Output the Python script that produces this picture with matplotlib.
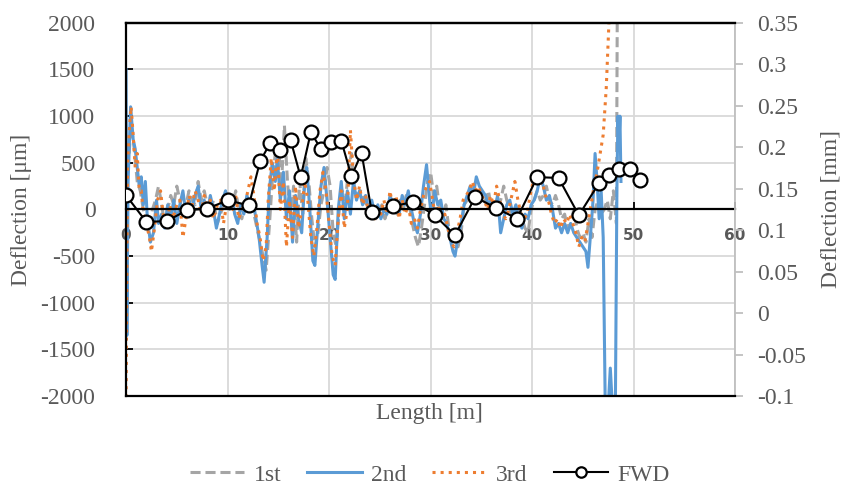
import matplotlib.pyplot as plt
import matplotlib.ticker as ticker

plt.rcParams['font.family'] = ['Liberation Serif', 'DejaVu Serif']
plt.rcParams['axes.unicode_minus'] = False

#1st run (gray dashed), length [m] and deflection [um]
x_1st = [0.30, 0.50, 0.80, 1.10, 1.40, 1.70, 2.00, 2.30, 2.60, 2.90, 3.20, 3.50, 3.80, 4.10, 4.40, 4.70,
         5.00, 5.30, 5.60, 5.90, 6.20, 6.50, 6.80, 7.10, 7.40, 7.70, 8.00, 8.30, 8.60, 9.00, 9.30, 9.60,
         9.90, 10.20, 10.50, 10.80, 11.10, 11.40, 11.70, 12.00, 12.30, 12.60, 12.90, 13.20, 13.50, 13.80,
         14.10, 14.40, 14.70, 15.00, 15.30, 15.60, 15.90, 16.20, 16.50, 16.80, 17.10, 17.40, 17.70, 18.00,
         18.30, 18.60, 18.90, 19.20, 19.50, 19.80, 20.10, 20.40, 20.70, 21.00, 21.30, 21.60, 21.90, 22.20,
         22.50, 22.80, 23.10, 23.40, 23.70, 24.00, 24.30, 24.60, 24.90, 25.20, 25.50, 25.80, 26.10, 26.40,
         26.70, 27.00, 27.30, 27.60, 27.90, 28.20, 28.50, 28.80, 29.10, 29.40, 29.70, 30.00, 30.30, 30.60,
         30.90, 31.20, 31.50, 31.80, 32.10, 32.40, 32.70, 33.00, 33.30, 33.60, 33.90, 34.20, 34.50, 34.80,
         35.10, 35.40, 35.70, 36.00, 36.30, 36.60, 36.90, 37.20, 37.50, 37.80, 38.10, 38.40, 38.70, 39.00,
         39.30, 39.60, 39.90, 40.20, 40.50, 40.80, 41.10, 41.40, 41.70, 42.00, 42.30, 42.60, 42.90, 43.20,
         43.50, 43.80, 44.10, 44.40, 44.70, 45.00, 45.30, 45.60, 45.90, 46.20, 46.50, 46.80, 47.10, 47.40,
         47.70, 48.00, 48.30, 48.40]
y_1st = [600, 900, 650, 300, 200, 0, -100, -200, 0, 100, 250, 50, -150, 0, 150, 50,
         250, 100, -50, 50, 200, 100, 50, 300, 100, 200, 50, -50, 100, -150, -50, 50,
         150, 0, 50, 200, 0, -100, 50, 100, 0, -50, -200, -350, -500, -650,
         -200, 300, 600, 700, 250, 900, 300, -100, 250, -350, 300, -50, 550, 300,
         -100, -400, -250, 50, 200, 450, 250, -250, -400, 0, 200, 100, 400, 600,
         200, 150, 200, 100, 50, -50, 0, -100, -50, 50, -100, 0, 100, 50,
         -50, 100, 0, 150, 50, -150, -300, -400, -200, 50, 300, 400, 150, 250,
         0, -100, 50, -200, -300, -350, -400, -250, 50, 100, 200, 250, 200, 150,
         50, 100, 200, 0, 100, 50, 100, 250, 100, 0, -100, -50, 50, -100,
         -200, -250, 0, 100, 200, 100, 150, 250, 100, 50, 150, 50, -100, -50,
         -200, -150, 0, -200, -300, -250, -350, -100, -300, 0, 100, -50, 0, 100,
         -100, 200, -150, 2500]

#2nd run (blue solid)
x_2nd = [0.00, 0.08, 0.20, 0.45, 0.70, 0.90, 1.10, 1.30, 1.50, 1.70, 1.90, 2.10, 2.40, 2.70, 3.00, 3.20,
         3.50, 3.80, 4.10, 4.40, 4.70, 5.00, 5.30, 5.60, 5.90, 6.20, 6.50, 6.80, 7.10, 7.40, 7.70, 8.00,
         8.30, 8.60, 8.90, 9.20, 9.50, 9.80, 10.10, 10.40, 10.70, 11.00, 11.30, 11.60, 11.90, 12.20, 12.50,
         12.80, 13.10, 13.40, 13.60, 13.90, 14.10, 14.40, 14.70, 14.90, 15.20, 15.50, 15.80, 16.10, 16.40,
         16.70, 17.00, 17.30, 17.60, 17.80, 18.10, 18.40, 18.60, 18.90, 19.20, 19.50, 19.80, 20.10, 20.40,
         20.60, 20.90, 21.20, 21.50, 21.80, 22.10, 22.40, 22.70, 23.00, 23.30, 23.60, 23.90, 24.20, 24.50,
         24.80, 25.10, 25.40, 25.70, 26.00, 26.30, 26.60, 26.90, 27.20, 27.50, 27.80, 28.10, 28.40, 28.70,
         29.00, 29.30, 29.60, 29.90, 30.10, 30.40, 30.70, 31.00, 31.30, 31.60, 31.90, 32.20, 32.40, 32.70,
         33.00, 33.30, 33.60, 33.90, 34.20, 34.50, 34.80, 35.10, 35.40, 35.70, 36.00, 36.30, 36.60, 36.90,
         37.20, 37.50, 37.80, 38.10, 38.40, 38.70, 39.00, 39.30, 39.60, 39.90, 40.20, 40.50, 40.80, 41.10,
         41.40, 41.70, 42.00, 42.30, 42.60, 42.90, 43.20, 43.50, 43.80, 44.10, 44.40, 44.70, 45.00, 45.30,
         45.50, 45.80, 46.00, 46.20, 46.40, 46.60, 46.80, 47.00, 47.20, 47.50, 47.70, 47.90, 48.20, 48.35,
         48.45, 48.55, 48.65, 48.75]
y_2nd = [1500, -1350, 300, 1100, 750, 650, 450, 250, 350, 50, 300, -100, -350, -250, 100, -150,
         -50, -200, 50, -100, 100, -150, 50, 200, -50, 100, 0, 150, 250, 0, 100, -50,
         150, 0, -200, -50, 100, 200, 50, 150, -50, -150, 50, -50, 150, 50, 100,
         -100, -300, -600, -780, -300, 200, 500, 300, 550, 100, 400, -100, 200, -350,
         150, -100, -250, 300, 450, 0, -550, -600, -150, 250, 450, 100, -300, -700,
         -750, 0, 300, -100, 200, -50, 300, 100, 200, 50, 150, 0, 100, -50,
         50, -100, 0, -50, 150, 50, 100, -50, 150, 50, 200, 0, -150, -250,
         -50, 250, 480, 100, -100, 200, 50, 100, -100, -150, -300, -450, -500, -300,
         -150, 50, 150, 250, 150, 350, 250, 200, 150, 50, 100, 0, 150, -250,
         -100, 50, 100, -50, 50, -150, -200, -50, -100, 50, 100, 200, 350, 250,
         100, 150, 0, -200, -150, -250, -150, -250, -150, -250, -300, -350, -400, -450,
         -620, -200, 100, 600, 300, -100, 200, -300, -2100, -2100, -1700, -2100, -2100, 200,
         1000, 700, 1000, 300]

#3rd run (orange dotted)
x_3rd = [0.00, 0.05, 0.15, 0.35, 0.50, 0.70, 0.90, 1.10, 1.30, 1.50, 1.70, 2.00, 2.30, 2.50, 2.80, 3.10,
         3.40, 3.70, 4.00, 4.30, 4.60, 5.00, 5.30, 5.60, 5.90, 6.20, 6.50, 6.80, 7.10, 7.40, 7.70, 8.00,
         8.30, 8.60, 9.00, 9.30, 9.60, 9.90, 10.20, 10.50, 10.80, 11.10, 11.40, 11.70, 12.00, 12.30, 12.60,
         12.90, 13.20, 13.50, 13.80, 14.00, 14.30, 14.60, 14.90, 15.20, 15.50, 15.80, 16.10, 16.40, 16.70,
         17.00, 17.30, 17.60, 17.90, 18.20, 18.50, 18.80, 19.10, 19.40, 19.70, 20.00, 20.30, 20.60, 20.90,
         21.20, 21.50, 21.80, 22.10, 22.40, 22.70, 23.00, 23.30, 23.60, 23.90, 24.20, 24.50, 24.80, 25.10,
         25.40, 25.70, 26.00, 26.30, 26.60, 26.90, 27.20, 27.50, 27.80, 28.10, 28.40, 28.70, 29.00, 29.30,
         29.60, 29.90, 30.20, 30.50, 30.80, 31.10, 31.40, 31.70, 32.00, 32.30, 32.60, 32.90, 33.20, 33.50,
         33.80, 34.10, 34.40, 34.70, 35.00, 35.30, 35.60, 35.90, 36.20, 36.50, 36.80, 37.10, 37.40, 37.70,
         38.00, 38.30, 38.60, 38.90, 39.20, 39.50, 39.80, 40.10, 40.40, 40.70, 41.00, 41.30, 41.60, 41.90,
         42.20, 42.50, 42.80, 43.10, 43.40, 43.70, 44.00, 44.30, 44.60, 44.90, 45.20, 45.50, 45.80, 46.10,
         46.40, 46.70, 47.00, 47.30, 47.60, 47.80]
y_3rd = [-2100, -1200, 500, 900, 1100, 800, 450, 600, 200, 200, -50, -150, -300, -450, -200, 100,
         200, -100, -200, 50, -100, 50, 100, -300, -100, 150, 50, 200, 100, -50, 150, 0,
         100, -100, 50, 100, -150, 50, 100, 0, 150, -100, 0, 50, 200, 350, 150,
         -150, -300, -550, -400, 100, 550, 200, 650, 0, 300, -400, 100, -300, 250,
         -200, 0, 300, 100, -300, -500, -200, 200, 400, 200, -150, -500, -600, -100,
         200, -200, 0, 850, 350, 100, 250, 50, 150, -50, 50, -100, 0, -50,
         100, -50, 200, 0, 150, -100, 100, -50, 50, -150, -100, -200, 0, 150,
         250, 300, 100, -100, 50, -100, -50, -200, -350, -400, -250, -100, 100, 150,
         200, 300, 200, 250, 150, 100, 0, 150, 50, 250, 100, -50, -100, 0,
         150, 300, 100, -50, -100, -50, 150, 300, 400, 250, 300, 150, 100, -50,
         -150, -100, -200, -100, -150, -50, -150, -250, -400, -300, -350, -150, 50, 250,
         400, 600, 800, 1300, 2100, 2600]

#FWD points, length [m] and deflection [mm] on the right axis
x_fwd = [0, 2, 4, 6, 8, 10, 12.1, 13.2, 14.2, 15.2, 16.2, 17.2, 18.2, 19.2, 20.2, 21.2, 22.2,
         23.2, 24.2, 26.3, 28.3, 30.4, 32.4, 34.4, 36.4, 38.5, 40.5, 42.6, 44.6, 46.6, 47.6, 48.6,
         49.6, 50.6]
y_fwd = [0.142, 0.110, 0.111, 0.124, 0.126, 0.136, 0.130, 0.183, 0.205, 0.197, 0.209, 0.164,
         0.218, 0.198, 0.206, 0.208, 0.165, 0.193, 0.122, 0.129, 0.134, 0.118, 0.094, 0.140,
         0.127, 0.114, 0.164, 0.163, 0.118, 0.157, 0.167, 0.174, 0.174, 0.161]

text_gray = '#595959'

fig = plt.figure(figsize=(8.46, 4.86), dpi=100)
ax = fig.add_axes([0.149, 0.185, 0.720, 0.768])

l1, = ax.plot(x_1st, y_1st, color='#a5a5a5', lw=2.2, linestyle=(0, (3.3, 1.6)), label='1st')
l2, = ax.plot(x_2nd, y_2nd, color='#5b9bd5', lw=2.2, label='2nd')
l3, = ax.plot(x_3rd, y_3rd, color='#ed7d31', lw=2.2, linestyle=':', label='3rd')

ax.set_xlim(0, 60)
ax.set_ylim(-2000, 2000)
ax.set_xticks(range(0, 61, 10))
ax.set_yticks(range(-2000, 2001, 500))
ax.grid(True, color='#d9d9d9', lw=1.3)
ax.set_axisbelow(True)

#x axis drawn through zero like in excel
ax.spines['bottom'].set_position(('data', 0))
ax.spines['bottom'].set_linewidth(1.6)
ax.spines['left'].set_linewidth(1.6)
ax.spines['top'].set_linewidth(1.6)
ax.spines['right'].set_visible(False)
ax.tick_params(axis='x', direction='in', length=5, width=1.3, pad=13, colors='black', labelcolor=text_gray)
ax.tick_params(axis='y', direction='in', length=5, width=1.3, pad=22, labelsize=17, labelcolor=text_gray)
for lab in ax.get_xticklabels():
    lab.set_fontfamily('DejaVu Sans')
    lab.set_fontweight('bold')
    lab.set_fontsize(11)

ax.set_ylabel('Deflection [μm]', fontsize=17, color=text_gray, labelpad=6)
fig.text(0.508, 0.150, 'Length [m]', fontsize=17, color=text_gray, ha='center', va='center')

#right axis for FWD in mm
ax2 = ax.twinx()
l4, = ax2.plot(x_fwd, y_fwd, color='black', lw=1.5, marker='o', markersize=10,
               markerfacecolor='white', markeredgecolor='black', markeredgewidth=1.6, label='FWD')
ax2.set_ylim(-0.1, 0.35)
ax2.set_yticks([-0.1, -0.05, 0, 0.05, 0.1, 0.15, 0.2, 0.25, 0.3, 0.35])
ax2.yaxis.set_major_formatter(ticker.FuncFormatter(lambda v, p: '%g' % round(v, 2)))
ax2.tick_params(axis='y', direction='out', length=6, width=1.3, color='#bfbfbf', pad=10,
                labelsize=17, labelcolor=text_gray)
ax2.spines['right'].set_color('#bfbfbf')
ax2.spines['right'].set_linewidth(1.3)
ax2.spines['left'].set_visible(False)
ax2.spines['top'].set_linewidth(1.6)
ax2.spines['bottom'].set_linewidth(1.6)
ax2.set_ylabel('Deflection [mm]', fontsize=17, color=text_gray, rotation=90, labelpad=10)

fig.legend(handles=[l1, l2, l3, l4], loc='center', bbox_to_anchor=(0.508, 0.023), ncol=4,
           frameon=False, fontsize=17, labelcolor=text_gray, handlelength=2.3,
           handletextpad=0.4, columnspacing=1.1, markerscale=0.75)

plt.savefig('out.png', dpi=100)
plt.close('all')
